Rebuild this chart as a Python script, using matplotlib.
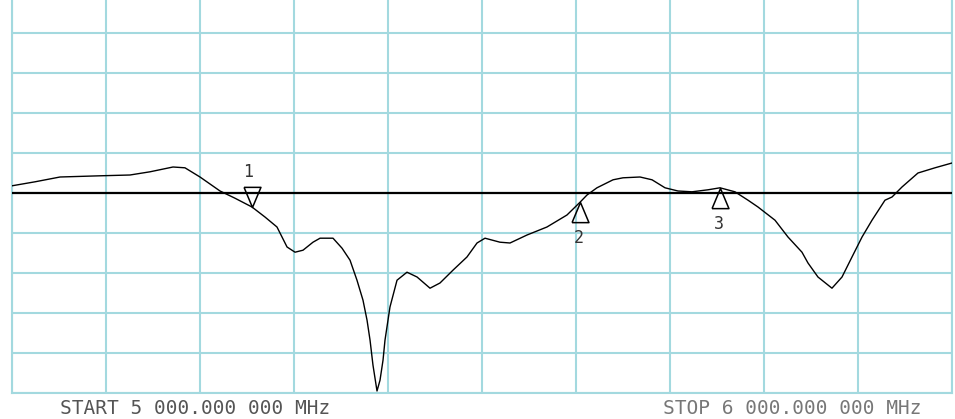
import numpy as np
import matplotlib
matplotlib.use('Agg')
import matplotlib.pyplot as plt

# sweep 5000 - 6000 MHz, level relative to reference line (1 dB/div)
freq_mhz = [5000, 5024.5, 5051.1, 5093.6, 5125.5, 5146.8, 5171.3, 5184.0, 5200.0,
            5221.3, 5237.2, 5255.3, 5269.1, 5281.9, 5292.6, 5301.1, 5309.6, 5320.2,
            5327.7, 5341.5, 5351.1, 5359.6, 5367.0, 5373.4, 5377.7, 5380.9, 5384.0,
            5388.3, 5391.5, 5394.7, 5396.8, 5402.1, 5409.6, 5420.2, 5430.9, 5444.7,
            5455.3, 5469.1, 5484.0, 5494.7, 5503.2, 5519.1, 5529.8, 5547.9, 5569.1,
            5590.4, 5604.3, 5611.7, 5622.3, 5639.4, 5650.0, 5668.1, 5680.9, 5694.7,
            5708.5, 5723.4, 5740.4, 5753.2, 5769.1, 5783.0, 5793.6, 5811.7, 5825.5,
            5840.4, 5846.8, 5857.4, 5872.3, 5883.0, 5893.6, 5904.3, 5914.9, 5928.7,
            5936.2, 5946.8, 5963.8, 5981.9, 6000]
level_db = [0.18, 0.28, 0.40, 0.43, 0.45, 0.53, 0.65, 0.63, 0.40,
            0.05, -0.13, -0.35, -0.60, -0.85, -1.35, -1.48, -1.43, -1.23,
            -1.13, -1.13, -1.38, -1.68, -2.18, -2.68, -3.18, -3.68, -4.30,
            -4.95, -4.68, -4.18, -3.68, -2.85, -2.18, -1.98, -2.10, -2.38,
            -2.25, -1.93, -1.60, -1.25, -1.13, -1.23, -1.25, -1.05, -0.85,
            -0.55, -0.23, -0.05, 0.13, 0.33, 0.38, 0.40, 0.33, 0.13,
            0.05, 0.03, 0.08, 0.13, 0.03, -0.18, -0.35, -0.68, -1.10,
            -1.48, -1.75, -2.10, -2.38, -2.10, -1.60, -1.10, -0.68, -0.18,
            -0.10, 0.15, 0.50, 0.63, 0.75]

ref_level = 0.0
marker_freq = [5255.3, 5604.3, 5753.2]
marker_names = ['1', '2', '3']
marker_up = [False, True, True]

grid_col = '#a3d9df'

fig = plt.figure(figsize=(9.55, 4.19), dpi=100)
ax = fig.add_axes([12 / 955, 26 / 419, 940 / 955, 400 / 419])
ax.set_xlim(5000, 6000)
ax.set_ylim(-5, 5)
ax.set_xticks(np.arange(5000, 6001, 100))
ax.set_yticks(np.arange(-5, 6, 1))
ax.tick_params(length=0, labelbottom=False, labelleft=False)
ax.grid(True, color=grid_col, linewidth=1.5)
for sp in ax.spines.values():
    sp.set_color(grid_col)
    sp.set_linewidth(1.5)

ax.axhline(ref_level, color='black', linewidth=1.6, zorder=3)
ax.plot(freq_mhz, level_db, color='black', linewidth=1.0, zorder=4)

# marker triangles, tip sits on the trace
tri_down = [(-0.42, 1), (0.42, 1), (0, 0), (-0.42, 1)]
tri_up = [(-0.42, -1), (0.42, -1), (0, 0), (-0.42, -1)]
for f, name, up in zip(marker_freq, marker_names, marker_up):
    lv = np.interp(f, freq_mhz, level_db)
    ax.plot(f, lv, marker=tri_up if up else tri_down, markersize=29,
            mfc='none', mec='black', mew=1.1, zorder=5)
    off = (-1, -26) if up else (-3, 25)
    ax.annotate(name, (f, lv), xytext=off, textcoords='offset points',
                ha='center', va='center', fontsize=12,
                family='DejaVu Sans Mono', color='#333333')

fig.text(60 / 955, (419 - 408) / 419, 'START 5 000.000 000 MHz',
         family='DejaVu Sans Mono', fontsize=14, color='#555555', va='center')
fig.text(663 / 955, (419 - 408) / 419, 'STOP 6 000.000 000 MHz',
         family='DejaVu Sans Mono', fontsize=14, color='#777777', va='center')

fig.savefig('out.png', dpi=100)
